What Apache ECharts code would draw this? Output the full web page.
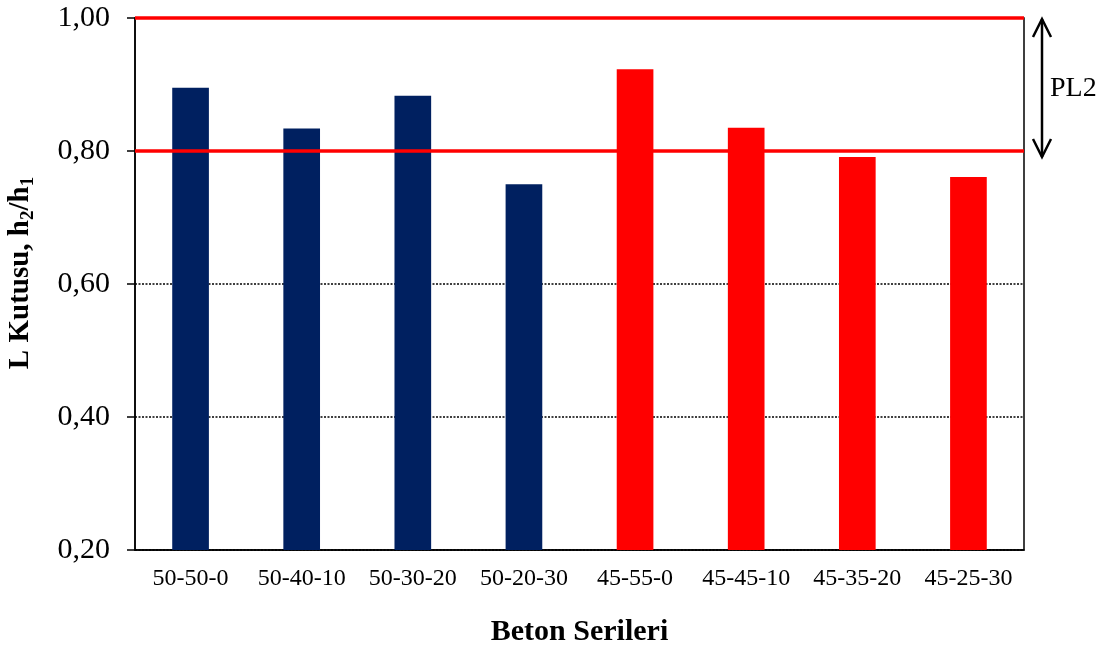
<!DOCTYPE html>
<html>
<head>
<meta charset="utf-8">
<script src="https://cdn.jsdelivr.net/npm/echarts@6/dist/echarts.min.js"></script>
<style>
  html, body { margin: 0; padding: 0; background: #fff; }
  #chart { width: 1110px; height: 651px; }
</style>
</head>
<body>
<div id="chart"></div>
<script>
// Concrete series and their L-box ratios (h2/h1)
const categories = ['50-50-0', '50-40-10', '50-30-20', '50-20-30', '45-55-0', '45-45-10', '45-35-20', '45-25-30'];
const ratios = [0.895, 0.834, 0.883, 0.750, 0.923, 0.835, 0.791, 0.761];
const groups = ['50', '50', '50', '50', '45', '45', '45', '45'];
const groupColors = { '50': '#002060', '45': '#FF0000' };

// PL2 class limits for the L-box ratio
const limitLower = 0.80;
const limitUpper = 1.00;
const limitLabel = 'PL2';

const yMin = 0.2, yMax = 1.0, yStep = 0.2;

const FONT = '"Liberation Serif", "Times New Roman", serif';

const chart = echarts.init(document.getElementById('chart'));

chart.setOption({
  animation: false,
  backgroundColor: '#fff',
  grid: {
    left: 135, right: 86, top: 18, bottom: 101,
    containLabel: false,
    outerBoundsMode: 'none',
    show: true, borderColor: '#000', borderWidth: 1.5, backgroundColor: 'transparent'
  },
  xAxis: {
    type: 'category',
    data: categories,
    name: 'Beton Serileri',
    nameLocation: 'middle',
    nameGap: 67,
    nameTextStyle: { fontFamily: FONT, fontWeight: 'bold', fontSize: 30, color: '#000' },
    axisLine: { lineStyle: { color: '#000', width: 1.5 } },
    axisTick: { show: false },
    axisLabel: { fontFamily: FONT, fontSize: 24, color: '#000', margin: 17, interval: 0 }
  },
  yAxis: {
    type: 'value',
    min: yMin, max: yMax, interval: yStep,
    name: '{b|L Kutusu, h}{s|2}{b|/h}{s|1}',
    nameLocation: 'middle',
    nameRotate: 90,
    nameGap: 97,
    nameTextStyle: {
      padding: [0, 0, 0, 22],
      rich: {
        b: { fontFamily: FONT, fontWeight: 'bold', fontSize: 29, color: '#000', lineHeight: 35 },
        s: { fontFamily: FONT, fontWeight: 'bold', fontSize: 19, color: '#000', lineHeight: 19, verticalAlign: 'bottom' }
      }
    },
    axisLine: { show: true, lineStyle: { color: '#000', width: 1.5 } },
    axisTick: { show: true, length: 8, lineStyle: { color: '#000', width: 1.5 } },
    axisLabel: {
      fontFamily: FONT, fontSize: 30, color: '#000', margin: 25,
      formatter: v => v.toFixed(2).replace('.', ',')
    },
    splitLine: { show: true, lineStyle: { color: '#000', width: 1.5, type: [2, 1.5] } }
  },
  series: [{
    type: 'bar',
    barWidth: '33%',
    data: ratios.map((v, i) => ({ value: v, itemStyle: { color: groupColors[groups[i]] } })),
    markLine: {
      silent: true,
      symbol: ['none', 'none'],
      label: { show: false },
      lineStyle: { color: '#FF0000', width: 3.5, type: 'solid' },
      data: [{ yAxis: limitLower }, { yAxis: limitUpper }]
    }
  }]
});

// Double arrow spanning the PL2 band, placed just right of the plot area
function drawLimitArrow() {
  const yTop = chart.convertToPixel({ yAxisIndex: 0 }, limitUpper);
  const yBot = chart.convertToPixel({ yAxisIndex: 0 }, limitLower);
  const xRight = chart.getWidth() - 86;
  const ax = xRight + 18;
  const head = 9, headH = 18;
  const stroke = { stroke: '#000', lineWidth: 2.5, fill: null };
  chart.setOption({
    graphic: [
      { type: 'line', shape: { x1: ax, y1: yTop + 1, x2: ax, y2: yBot + 6 }, style: stroke, silent: true },
      { type: 'polyline', shape: { points: [[ax - head, yTop + headH + 1], [ax, yTop + 1], [ax + head, yTop + headH + 1]] }, style: stroke, silent: true },
      { type: 'polyline', shape: { points: [[ax - head, yBot + 6 - headH], [ax, yBot + 6], [ax + head, yBot + 6 - headH]] }, style: stroke, silent: true },
      {
        type: 'text', x: ax + 8, y: (yTop + yBot) / 2 + 4,
        style: { text: limitLabel, fontFamily: FONT, fontSize: 28, fill: '#000', textAlign: 'left', textVerticalAlign: 'middle' },
        silent: true
      }
    ]
  });
}
drawLimitArrow();
</script>
</body>
</html>
